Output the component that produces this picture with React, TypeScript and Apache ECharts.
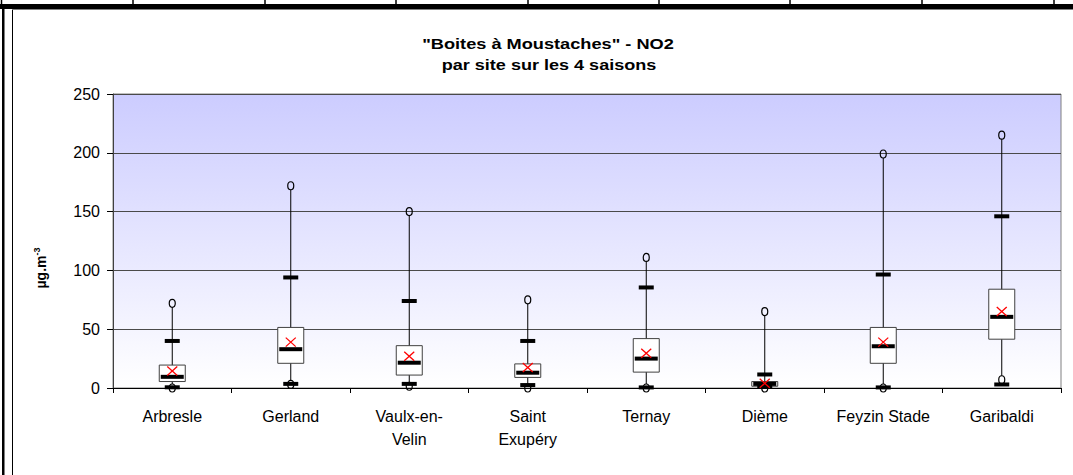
import React, { useEffect, useRef } from 'react';
import * as echarts from 'echarts';

const categories = ['Arbresle', 'Gerland', 'Vaulx-en-\nVelin', 'Saint\nExupéry', 'Ternay', 'Dième', 'Feyzin Stade', 'Garibaldi'];
const minVals = [0, 3, 1.5, 0, 0, 0, 0, 7];
const lowVals = [0.6, 3.5, 3.5, 2.5, 0.5, 1, 0.5, 3];
const q1Vals = [5.5, 21, 11, 9, 13.5, 1.5, 21, 41.5];
const medianVals = [9.5, 33, 21.5, 13, 25, 3.5, 35.5, 60.5];
const meanVals = [14.5, 39, 27, 17.5, 29.5, 4, 39, 65];
const q3Vals = [19.5, 51.5, 36, 20.5, 42, 5.5, 51.5, 84];
const highVals = [40, 94, 74, 40, 85.5, 11.5, 96.5, 146];
const maxVals = [72, 172, 150, 75, 111, 65, 199, 215];
const yTicks = { min: 0, max: 250, interval: 50 };
const titleLines = ['"Boites à Moustaches" - NO2', 'par site sur les 4 saisons'];
const yAxisUnit = ['µg.m', '-3'];

const FONT = 'Arial, "Liberation Sans", sans-serif';

export default function App() {
  const ref = useRef<HTMLDivElement>(null);
  useEffect(() => {
    document.body.style.margin = '0';
    const chart = echarts.init(ref.current!, null, { renderer: 'svg' });
    const data = categories.map((_, i) => [
      i, minVals[i], lowVals[i], q1Vals[i], medianVals[i], meanVals[i], q3Vals[i], highVals[i], maxVals[i],
    ]);
    const dividerXs = [1.5, 133, 265, 396, 528, 659, 790, 922, 1054];
    chart.setOption({
      animation: false,
      grid: {
        left: 113, top: 94, width: 948, height: 294,
        show: true,
        backgroundColor: new echarts.graphic.LinearGradient(0, 0, 0, 1, [
          { offset: 0, color: '#ccccff' },
          { offset: 1, color: '#ffffff' },
        ]),
        borderColor: '#808080', borderWidth: 1,
      },
      xAxis: {
        type: 'category',
        data: categories,
        boundaryGap: true,
        axisLine: { lineStyle: { color: '#000', width: 1 } },
        axisTick: { show: true, length: 5, lineStyle: { color: '#000' } },
        axisLabel: { color: '#000', fontFamily: FONT, fontSize: 16, lineHeight: 23, margin: 17, interval: 0 },
        splitLine: { show: false },
      },
      yAxis: {
        type: 'value',
        ...yTicks,
        axisLine: { show: true, lineStyle: { color: '#404040', width: 1 } },
        axisTick: { show: true, length: 6, lineStyle: { color: '#000' } },
        axisLabel: { color: '#000', fontFamily: FONT, fontSize: 16, margin: 13 },
        splitLine: { show: true, lineStyle: { color: '#4a4a4a', width: 1 } },
      },
      series: [
        {
          type: 'custom',
          data,
          clip: false,
          renderItem: (params: any, api: any) => {
            const i = api.value(0);
            const x = api.coord([i, 0])[0];
            const y = (v: number) => api.coord([i, v])[1];
            const vMin = api.value(1), vLo = api.value(2), vQ1 = api.value(3), vMed = api.value(4);
            const vMean = api.value(5), vQ3 = api.value(6), vHi = api.value(7), vMax = api.value(8);
            const ry = 4, rx = 3;
            const my = y(vMean);
            return {
              type: 'group',
              children: [
                { type: 'line', shape: { x1: x, y1: y(vMax) + ry, x2: x, y2: y(vMin) - ry }, style: { stroke: '#000', lineWidth: 1 } },
                { type: 'rect', shape: { x: x - 13, y: y(vQ3), width: 26, height: y(vQ1) - y(vQ3) }, style: { fill: '#fff', stroke: '#404040', lineWidth: 1 } },
                { type: 'rect', shape: { x: x - 11.5, y: y(vMed) - 2, width: 23, height: 4 }, style: { fill: '#000' } },
                { type: 'rect', shape: { x: x - 7.5, y: y(vLo) - 2, width: 15, height: 4 }, style: { fill: '#000' } },
                { type: 'rect', shape: { x: x - 7.5, y: y(vHi) - 2, width: 15, height: 4 }, style: { fill: '#000' } },
                { type: 'ellipse', shape: { cx: x, cy: y(vMin), rx, ry }, style: { fill: 'none', stroke: '#000', lineWidth: 1.2 } },
                { type: 'ellipse', shape: { cx: x, cy: y(vMax), rx, ry }, style: { fill: 'none', stroke: '#000', lineWidth: 1.2 } },
                { type: 'line', shape: { x1: x - 5, y1: my - 4.5, x2: x + 5, y2: my + 4.5 }, style: { stroke: '#ff0000', lineWidth: 1.3 } },
                { type: 'line', shape: { x1: x - 5, y1: my + 4.5, x2: x + 5, y2: my - 4.5 }, style: { stroke: '#ff0000', lineWidth: 1.3 } },
              ],
            };
          },
        },
      ],
      graphic: [
        { type: 'rect', shape: { x: 0, y: 4, width: 1073, height: 5 }, style: { fill: '#000' } },
        ...dividerXs.map((dx) => ({ type: 'line', shape: { x1: dx, y1: 0, x2: dx, y2: 4 }, style: { stroke: '#000', lineWidth: 1.5 } })),
        { type: 'rect', shape: { x: 2, y: 4, width: 2.5, height: 471 }, style: { fill: '#000' } },
        { type: 'line', shape: { x1: 12.5, y1: 9, x2: 12.5, y2: 475 }, style: { stroke: '#000', lineWidth: 1 } },
        { type: 'line', shape: { x1: 12, y1: 9.5, x2: 1073, y2: 9.5 }, style: { stroke: '#808080', lineWidth: 1 } },
        {
          type: 'text', x: 548, y: 44, scaleX: 1.3,
          style: { text: titleLines[0], fontFamily: FONT, fontWeight: 'bold', fontSize: 14, fill: '#000', align: 'center', verticalAlign: 'middle' },
        },
        {
          type: 'text', x: 549, y: 65, scaleX: 1.29,
          style: { text: titleLines[1], fontFamily: FONT, fontWeight: 'bold', fontSize: 14, fill: '#000', align: 'center', verticalAlign: 'middle' },
        },
        {
          type: 'text', x: 41, y: 268, rotation: Math.PI / 2,
          style: {
            text: `{a|${yAxisUnit[0]}}{b|${yAxisUnit[1]}}`,
            align: 'center', verticalAlign: 'middle',
            rich: {
              a: { fontFamily: FONT, fontWeight: 'bold', fontSize: 14, fill: '#000', lineHeight: 18 },
              b: { fontFamily: FONT, fontWeight: 'bold', fontSize: 9, fill: '#000', lineHeight: 18, verticalAlign: 'top', padding: [0, 0, 7, 0] },
            },
          },
        },
      ],
    });
    return () => chart.dispose();
  }, []);
  return <div ref={ref} style={{ width: 1073, height: 475 }} />;
}
